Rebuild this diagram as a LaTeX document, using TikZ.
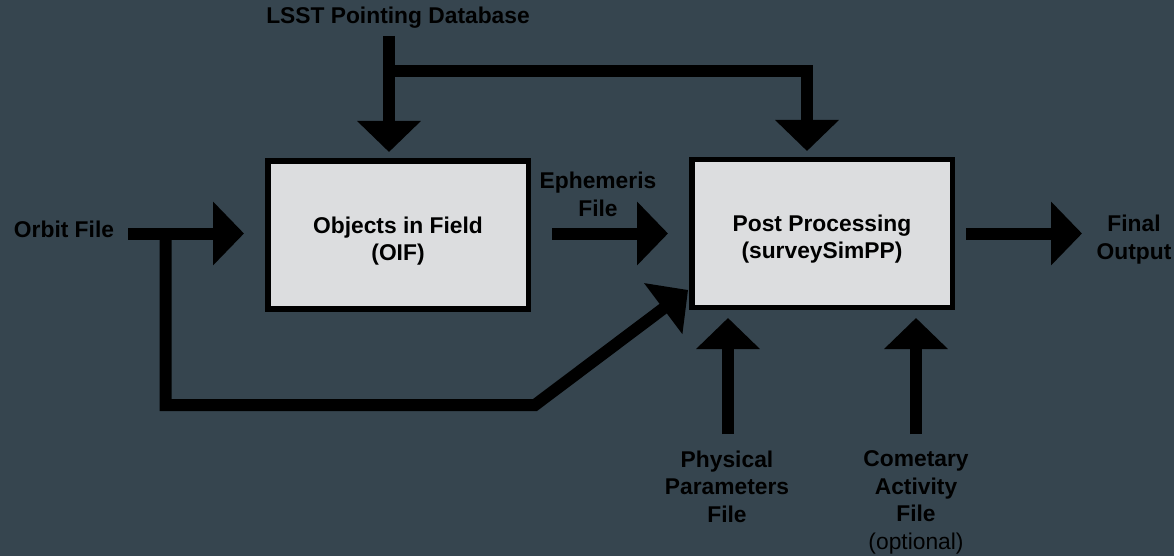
\documentclass[tikz,border=0pt]{standalone}
\usepackage{fontspec}
\setmainfont{Liberation Sans}
\usetikzlibrary{arrows.meta}
\definecolor{bg}{HTML}{36454F}
\definecolor{boxfill}{HTML}{DCDDDF}
\newcommand\tstrut{\rule{0pt}{28pt}}
\newcommand\bstrut{\rule[-5pt]{0pt}{5pt}}
\begin{document}
\begin{tikzpicture}[x=1pt,y=-1pt,
  pipe/.style={line width=12pt, line join=miter, draw=black},
  arr/.style={pipe, -{Triangle[length=31pt,width=62pt]}},
  procbox/.style={draw=black, line width=5.5pt, fill=boxfill, minimum width=260.5pt,
    minimum height=148pt, inner sep=0pt, align=center,
    font=\fontsize{22.8}{27}\selectfont\bfseries},
  lbl/.style={inner sep=0pt, align=center, font=\fontsize{22.8}{27.5}\selectfont\bfseries, anchor=base}]
\useasboundingbox (0,0) rectangle (1174,556);
\fill[bg] (0,0) rectangle (1174,556);

\node[procbox] (oif) at (398,235) {\tstrut Objects in Field\\(OIF)\bstrut};
\node[procbox] (pp) at (822,233.5) {\tstrut Post Processing\\(surveySimPP)\bstrut};

% anchor=base is the baseline of the last line
\node[lbl] (lsst) at (398,24) {LSST Pointing Database};
\node[lbl] (orbit) at (64,237) {Orbit File};
\node[lbl] (eph) at (598,216) {Ephemeris\\File};
\node[lbl] (final) at (1134,259) {Final\\Output};
\node[lbl] (phys) at (727,522) {Physical\\Parameters\\File};
\node[lbl] (comet) at (916,549) {Cometary\\Activity\\File\\{\mdseries(optional)}};

\coordinate (lsstTop) at (389,36);
\coordinate (lsstJ) at (389,71.5);
\coordinate (oifIn) at (389,152);
\coordinate (lsstR) at (807,71.5);
\coordinate (ppIn) at (807,151);
\coordinate (orbS) at (128,233.5);
\coordinate (oifL) at (244,233.5);
\coordinate (orbJ) at (165.5,233.5);
\coordinate (orbC) at (165.5,405);
\coordinate (orbB) at (535,405);
\coordinate (ppDiag) at (688,290);
\coordinate (ephS) at (552,233.5);
\coordinate (ppL) at (668,233.5);
\coordinate (finS) at (966,233.5);
\coordinate (finT) at (1082,233.5);
\coordinate (physS) at (728,434);
\coordinate (physT) at (728,318);
\coordinate (comS) at (916,434);
\coordinate (comT) at (916,318);

\draw[arr] (lsstTop) -- (oifIn);
\draw[arr] (lsstJ) -- (lsstR) -- (ppIn);
\draw[arr] (orbS) -- (oifL);
\draw[arr] (orbJ) -- (orbC) -- (orbB) -- (ppDiag);
\draw[arr] (ephS) -- (ppL);
\draw[arr] (finS) -- (finT);
\draw[arr] (physS) -- (physT);
\draw[arr] (comS) -- (comT);
\end{tikzpicture}
\end{document}
